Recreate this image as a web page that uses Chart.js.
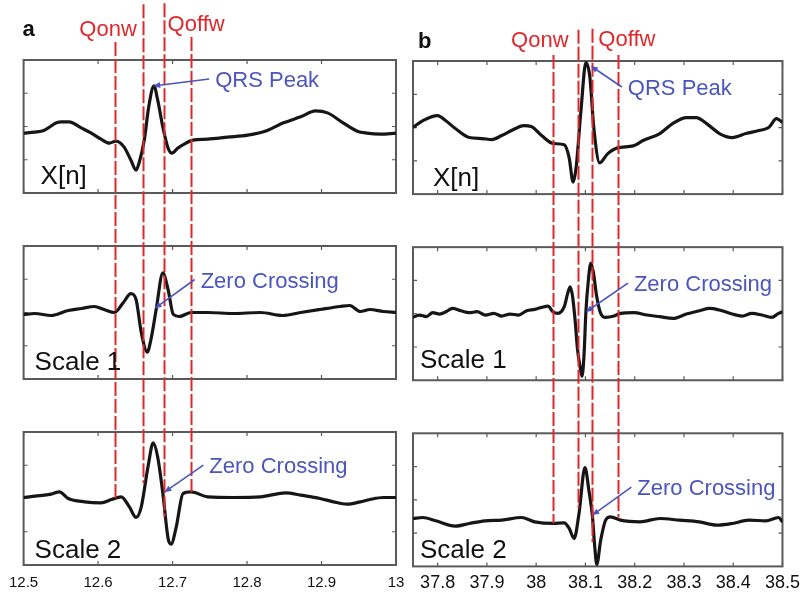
<!DOCTYPE html>
<html>
<head>
<meta charset="utf-8">
<title>QRS onset / offset on wavelet scales</title>
<script src="https://cdn.jsdelivr.net/npm/chart.js@4.4.1/dist/chart.umd.min.js"></script>
<style>
  html, body { margin: 0; padding: 0; background: #fff; }
  #wrap { position: relative; width: 806px; height: 597px; overflow: hidden; }
  #wrap canvas { position: absolute; top: 0; }
  #chartA { left: 0; }
  #chartB { left: 403px; }
</style>
</head>
<body>
<div id="wrap">
  <canvas id="chartA" width="420" height="610"></canvas>
  <canvas id="chartB" width="403" height="610"></canvas>
</div>
<script>
// ---- data, panel a (time in s) ----
const A_TICKS = [12.5, 12.6, 12.7, 12.8, 12.9, 13];

const A_XN_T = [12.5, 12.515, 12.528, 12.544, 12.551, 12.561, 12.578, 12.591, 12.604, 12.615, 12.624, 12.635, 12.644, 12.651, 12.655, 12.662, 12.668, 12.675, 12.680, 12.687, 12.694, 12.699, 12.707, 12.718, 12.727, 12.747, 12.774, 12.801, 12.828, 12.849, 12.872, 12.892, 12.908, 12.929, 12.948, 12.961, 12.979, 13.0];
const A_XN = [-0.20, -0.17, -0.11, 0.11, 0.14, 0.14, -0.05, -0.20, -0.38, -0.50, -0.44, -0.62, -1.01, -1.31, -1.10, -0.41, 0.59, 1.22, 0.80, -0.02, -0.65, -0.80, -0.65, -0.50, -0.41, -0.38, -0.32, -0.26, -0.11, 0.11, 0.29, 0.47, 0.41, 0.11, -0.14, -0.20, -0.23, -0.20];

const A_S1_T = [12.5, 12.515, 12.537, 12.56, 12.578, 12.595, 12.608, 12.622, 12.634, 12.644, 12.651, 12.658, 12.666, 12.671, 12.678, 12.687, 12.694, 12.701, 12.709, 12.725, 12.747, 12.782, 12.818, 12.848, 12.872, 12.898, 12.925, 12.938, 12.952, 12.965, 12.983, 13.0];
const A_S1 = [-0.06, -0.03, -0.09, 0.06, 0.12, 0.18, 0.09, 0, 0.30, 0.57, 0.39, -0.60, -1.19, -0.81, 0.09, 1.19, 0.69, -0.06, -0.12, 0, 0, -0.03, 0, -0.09, 0, 0.09, 0.18, 0.21, 0.03, 0.09, 0.03, 0];

const A_S2_T = [12.5, 12.515, 12.537, 12.548, 12.56, 12.582, 12.604, 12.618, 12.631, 12.642, 12.651, 12.658, 12.667, 12.674, 12.68, 12.687, 12.694, 12.698, 12.705, 12.714, 12.725, 12.747, 12.782, 12.818, 12.852, 12.872, 12.898, 12.916, 12.934, 12.952, 12.965, 12.983, 13.0];
const A_S2 = [0.03, 0.07, 0.13, 0.2, 0, -0.1, -0.13, -0.03, 0.05, -0.25, -0.57, -0.25, 0.95, 1.67, 1.25, 0.15, -1.2, -1.37, -0.85, 0.15, 0.2, 0.05, 0.03, 0.05, 0.17, 0.1, 0, -0.1, -0.17, -0.1, -0.03, 0.03, 0.03];

// Qonw / Qoffw markers: time, top end (X[n] units), bottom end (Scale 2 units)
const A_Q_X = [12.623, 12.66, 12.688, 12.725];
const A_Q_TOP = [2.54, 3.68, 3.71, 2.69];
const A_Q_END = [0.01, 0.46, -0.56, 0.19];

// annotation targets, one per panel
const A_NOTE_X = [12.674, 12.676, 12.689];
const A_NOTE_Y = [1.22, 0.12, 0.19];

// ---- data, panel b ----
const B_TICKS = [37.8, 37.9, 38, 38.1, 38.2, 38.3, 38.4, 38.5];

const B_XN_T = [37.75, 37.77, 37.80, 37.816, 37.836, 37.864, 37.89, 37.91, 37.93, 37.95, 37.975, 37.99, 38.011, 38.035, 38.057, 38.067, 38.075, 38.081, 38.091, 38.101, 38.109, 38.117, 38.129, 38.145, 38.165, 38.197, 38.217, 38.251, 38.277, 38.305, 38.325, 38.346, 38.372, 38.398, 38.426, 38.452, 38.472, 38.488, 38.5];
const B_XN = [0, 0.21, 0.36, 0.21, -0.03, -0.30, -0.33, -0.36, -0.24, -0.09, 0.06, 0.03, -0.24, -0.48, -0.52, -0.91, -1.64, -1.21, 0.52, 1.95, 1.52, 0, -1.06, -0.79, -0.61, -0.55, -0.39, -0.18, 0.12, 0.30, 0.30, 0.12, -0.18, -0.30, -0.18, -0.09, 0, 0.27, 0.15];

const B_S1_T = [37.750, 37.763, 37.777, 37.790, 37.804, 37.817, 37.830, 37.847, 37.864, 37.880, 37.897, 37.914, 37.930, 37.947, 37.964, 37.981, 37.997, 38.011, 38.024, 38.034, 38.044, 38.057, 38.064, 38.069, 38.074, 38.079, 38.084, 38.089, 38.093, 38.097, 38.101, 38.106, 38.111, 38.116, 38.123, 38.131, 38.141, 38.158, 38.171, 38.198, 38.225, 38.251, 38.278, 38.305, 38.332, 38.352, 38.372, 38.398, 38.418, 38.438, 38.458, 38.478, 38.492, 38.5];
const B_S1 = [-0.11, -0.04, -0.09, 0.03, -0.01, 0.06, 0.16, 0.09, 0.03, 0.06, -0.04, 0.01, -0.07, -0.01, -0.04, 0.09, 0.13, 0.19, 0.23, 0.06, 0.01, 0.21, 0.61, 0.81, 0.51, -0.19, -1.08, -1.58, -1.88, -1.28, 0.06, 1.01, 1.52, 1.25, 0.51, 0.01, -0.11, -0.07, 0.01, 0.03, -0.04, -0.09, -0.14, -0.01, 0.09, 0.16, 0.11, -0.01, -0.07, 0.01, -0.04, -0.11, 0.01, 0.06];

const B_S2_T = [37.75, 37.77, 37.796, 37.836, 37.864, 37.896, 37.93, 37.97, 37.997, 38.035, 38.057, 38.067, 38.077, 38.087, 38.099, 38.107, 38.114, 38.119, 38.123, 38.131, 38.141, 38.151, 38.171, 38.211, 38.251, 38.291, 38.331, 38.366, 38.398, 38.432, 38.466, 38.492, 38.5];
const B_S2 = [-0.56, -0.53, -0.63, -0.79, -0.71, -0.63, -0.61, -0.53, -0.66, -0.71, -0.69, -0.86, -1.16, -0.41, 0.97, 0.29, -0.46, -1.42, -1.94, -1.21, -0.61, -0.51, -0.61, -0.66, -0.56, -0.61, -0.66, -0.76, -0.71, -0.61, -0.63, -0.53, -0.66];

const B_Q_X = [38.034, 38.084, 38.114, 38.166];
const B_Q_TOP = [2.18, 2.94, 2.97, 2.18];
const B_Q_END = [-0.70, -0.25, -1.27, -0.52];

const B_NOTE_X = [38.111, 38.101, 38.114];
const B_NOTE_Y = [1.85, 0.05, -0.46];

// ---- shared labels ----
const PANEL_NAMES = ['X[n]', 'Scale 1', 'Scale 2'];
const NOTE_TEXT = ['QRS Peak', 'Zero Crossing', 'Zero Crossing'];
const Q_LABELS = ['Qonw', 'Qoffw'];
const Y_TICKS = [-1, 0, 1];

const FONT = '"Liberation Sans", Arial, Helvetica, sans-serif';
const RED = '#e0282c';
const BLUE = '#4b55bd';
const FRAME = '#5a5a5a';
const PANELS = ['p1', 'p2', 'p3'];

// canvases are 610px tall; the wrapper crops them to 597
const COLUMNS = [
    {
        canvas: 'chartA', letter: 'a', range: [12.5, 13], ticks: A_TICKS,
        series: [[A_XN_T, A_XN], [A_S1_T, A_S1], [A_S2_T, A_S2]],
        qX: A_Q_X, qTop: A_Q_TOP, qEnd: A_Q_END, noteX: A_NOTE_X, noteY: A_NOTE_Y,
        style: {
            padding: { left: 22, right: 24, top: 60, bottom: 9 },
            tickFont: 15, tickPad: 9,
            letter: [-1, -24],
            names: [[17, -9], [11, -9], [11, -7]],
            qon: [-6, -24], qoff: [4, -29],
            tails: [[56, -7], [40, -29], [39, -27]]
        }
    },
    {
        canvas: 'chartB', letter: 'b', range: [37.75, 38.5], ticks: B_TICKS,
        series: [[B_XN_T, B_XN], [B_S1_T, B_S1], [B_S2_T, B_S2]],
        qX: B_Q_X, qTop: B_Q_TOP, qEnd: B_Q_END, noteX: B_NOTE_X, noteY: B_NOTE_Y,
        style: {
            padding: { left: 10, right: 19, top: 61, bottom: 10 },
            tickFont: 18, tickPad: 6,
            letter: [5, -13],
            names: [[20, -8], [7, -12], [7, -8]],
            qon: [-9, -14], qoff: [6, -15],
            tails: [[31, 21], [42, -29], [39, -28]]
        }
    }
];

/**
 * Frames, inner ticks, marker lines and text for one column
 */
function columnPlugin(col) {
    const st = col.style;
    return {
        id: 'columnDecor',
        beforeDatasetsDraw(chart) {
            const ctx = chart.ctx;
            const x = chart.scales.x;
            ctx.save();
            ctx.strokeStyle = FRAME;
            PANELS.forEach(id => {
                const y = chart.scales[id];
                ctx.lineWidth = 1.2;
                ctx.beginPath();
                col.ticks.forEach(t => {
                    const px = x.getPixelForValue(t);
                    ctx.moveTo(px, y.top); ctx.lineTo(px, y.top + 4);
                    ctx.moveTo(px, y.bottom); ctx.lineTo(px, y.bottom - 4);
                });
                Y_TICKS.forEach(v => {
                    const py = y.getPixelForValue(v);
                    ctx.moveTo(x.left, py); ctx.lineTo(x.left + 4, py);
                    ctx.moveTo(x.right, py); ctx.lineTo(x.right - 4, py);
                });
                ctx.stroke();
                ctx.lineWidth = 2;
                ctx.strokeRect(x.left, y.top, x.right - x.left, y.bottom - y.top);
            });
            ctx.restore();
        },
        afterDatasetsDraw(chart) {
            // dashed Qonw / Qoffw lines running through all three panels
            const ctx = chart.ctx;
            const x = chart.scales.x;
            ctx.save();
            ctx.strokeStyle = RED;
            ctx.lineWidth = 2;
            ctx.setLineDash([14, 3]);
            col.qX.forEach((v, i) => {
                const px = Math.round(x.getPixelForValue(v)) + 0.5;
                ctx.beginPath();
                ctx.moveTo(px, chart.scales.p1.getPixelForValue(col.qTop[i]));
                ctx.lineTo(px, chart.scales.p3.getPixelForValue(col.qEnd[i]));
                ctx.stroke();
            });
            ctx.restore();
        },
        afterDraw(chart) {
            const ctx = chart.ctx;
            const x = chart.scales.x;
            const area = chart.chartArea;
            ctx.save();

            // panel letter
            ctx.fillStyle = '#111';
            ctx.font = 'bold 22px ' + FONT;
            ctx.textBaseline = 'alphabetic';
            ctx.fillText(col.letter, area.left + st.letter[0], area.top + st.letter[1]);

            // Qonw / Qoffw captions
            ctx.fillStyle = RED;
            ctx.font = '22px ' + FONT;
            ctx.textAlign = 'right';
            ctx.fillText(Q_LABELS[0], x.getPixelForValue(col.qX[1]) + st.qon[0], area.top + st.qon[1]);
            ctx.textAlign = 'left';
            ctx.fillText(Q_LABELS[1], x.getPixelForValue(col.qX[2]) + st.qoff[0], area.top + st.qoff[1]);

            PANELS.forEach((id, i) => {
                const y = chart.scales[id];

                // panel name
                ctx.fillStyle = '#111';
                ctx.font = '26px ' + FONT;
                ctx.textAlign = 'left';
                ctx.textBaseline = 'alphabetic';
                ctx.fillText(PANEL_NAMES[i], x.left + st.names[i][0], y.bottom + st.names[i][1]);

                // blue arrow + note
                const tx = x.getPixelForValue(col.noteX[i]);
                const ty = y.getPixelForValue(col.noteY[i]);
                const sx = tx + st.tails[i][0];
                const sy = ty + st.tails[i][1];
                const ang = Math.atan2(ty - sy, tx - sx);
                ctx.strokeStyle = BLUE;
                ctx.fillStyle = BLUE;
                ctx.lineWidth = 1.6;
                ctx.beginPath();
                ctx.moveTo(sx, sy);
                ctx.lineTo(tx - 4 * Math.cos(ang), ty - 4 * Math.sin(ang));
                ctx.stroke();
                ctx.beginPath();
                ctx.moveTo(tx, ty);
                ctx.lineTo(tx - 7 * Math.cos(ang) + 3 * Math.sin(ang), ty - 7 * Math.sin(ang) - 3 * Math.cos(ang));
                ctx.lineTo(tx - 7 * Math.cos(ang) - 3 * Math.sin(ang), ty - 7 * Math.sin(ang) + 3 * Math.cos(ang));
                ctx.closePath();
                ctx.fill();
                ctx.font = '22px ' + FONT;
                ctx.textBaseline = 'middle';
                ctx.fillText(NOTE_TEXT[i], sx + 6, sy + 2);
            });
            ctx.restore();
        }
    };
}

/**
 * Builds one column: three stacked panels sharing the time axis
 */
function buildColumn(col) {
    const st = col.style;
    const yPanel = (weight, stackWeight) => ({
        type: 'linear', position: 'left', stack: 'col', stackWeight: stackWeight,
        weight: weight, min: -2, max: 2, display: false
    });
    const yGap = (weight) => ({
        type: 'linear', position: 'left', stack: 'col', stackWeight: 53,
        weight: weight, min: 0, max: 1, display: false
    });

    const datasets = col.series.map((s, i) => ({
        data: s[0].map((t, k) => ({ x: t, y: s[1][k] })),
        yAxisID: PANELS[i],
        borderColor: '#161616',
        borderWidth: 3.2,
        pointRadius: 0,
        cubicInterpolationMode: 'monotone',
        fill: false
    }));

    new Chart(document.getElementById(col.canvas), {
        type: 'line',
        data: { datasets: datasets },
        options: {
            responsive: false,
            animation: false,
            layout: { padding: st.padding },
            plugins: { legend: { display: false }, tooltip: { enabled: false } },
            scales: {
                x: {
                    type: 'linear',
                    min: col.range[0],
                    max: col.range[1],
                    grid: { display: false, drawTicks: false, tickLength: 0 },
                    border: { display: false },
                    afterBuildTicks: scale => { scale.ticks = col.ticks.map(v => ({ value: v })); },
                    ticks: {
                        color: '#111',
                        padding: st.tickPad,
                        maxRotation: 0,
                        font: { family: FONT, size: st.tickFont },
                        callback: v => String(Number(v.toFixed(2)))
                    }
                },
                p1: yPanel(5, 133),
                g1: yGap(4),
                p2: yPanel(3, 133),
                g2: yGap(2),
                p3: yPanel(1, 133)
            }
        },
        plugins: [columnPlugin(col)]
    });
}

document.addEventListener('DOMContentLoaded', function() {
    COLUMNS.forEach(buildColumn);
});
</script>
</body>
</html>
